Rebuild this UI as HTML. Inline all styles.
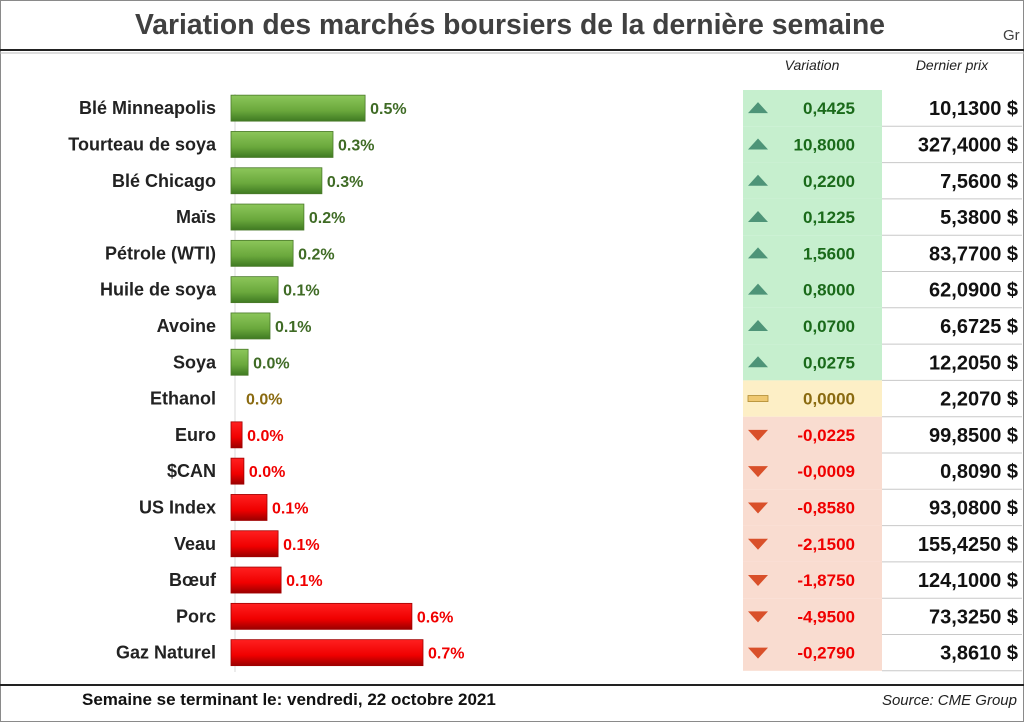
<!DOCTYPE html>
<html><head><meta charset="utf-8"><style>
body{margin:0;background:#fff;}
svg text{font-family:"Liberation Sans Narrow","Liberation Sans",sans-serif;}
</style></head><body>
<svg id="c" width="1024" height="722" xmlns="http://www.w3.org/2000/svg">
<defs>
<linearGradient id="gg" x1="0" y1="0" x2="0" y2="1"><stop offset="0" stop-color="#8cc65a"/><stop offset="0.6" stop-color="#6aa83c"/><stop offset="1" stop-color="#3f7a22"/></linearGradient>
<linearGradient id="rg" x1="0" y1="0" x2="0" y2="1"><stop offset="0" stop-color="#ff2020"/><stop offset="0.6" stop-color="#f00000"/><stop offset="1" stop-color="#9a0000"/></linearGradient>
</defs>
<rect x="0.5" y="0.5" width="1023" height="721" fill="#fff" stroke="#8a8a8a"/>
<text x="510" y="34" text-anchor="middle" font-size="29" font-weight="bold" fill="#404040" textLength="750" lengthAdjust="spacingAndGlyphs">Variation des marchés boursiers de la dernière semaine</text>
<text x="1003" y="40" font-size="15" fill="#404040">Gr</text>
<line x1="0" y1="50" x2="1024" y2="50" stroke="#222" stroke-width="2"/>
<line x1="0" y1="53" x2="1024" y2="53" stroke="#bbb" stroke-width="1"/>
<text x="812" y="70" text-anchor="middle" font-size="14" font-style="italic" fill="#222">Variation</text>
<text x="952" y="70" text-anchor="middle" font-size="14" font-style="italic" fill="#222">Dernier prix</text>
<line x1="235" y1="94" x2="235" y2="672" stroke="#d8d8d8"/>
<g id="rows"></g>
<line x1="0" y1="685" x2="1024" y2="685" stroke="#222" stroke-width="2"/>
<text x="82" y="705" font-size="17" font-weight="bold" fill="#111">Semaine se terminant le:  vendredi, 22 octobre 2021</text>
<text x="1017" y="705" text-anchor="end" font-size="15" font-style="italic" fill="#222">Source: CME Group</text>
</svg>
<script>
const categories=["Blé Minneapolis","Tourteau de soya","Blé Chicago","Maïs","Pétrole (WTI)","Huile de soya","Avoine","Soya","Ethanol","Euro","$CAN","US Index","Veau","Bœuf","Porc","Gaz Naturel"];
const pctValues=[0.447,0.340,0.303,0.243,0.207,0.157,0.130,0.057,0,-0.037,-0.043,-0.120,-0.157,-0.167,-0.603,-0.640];
const pctLabels=["0.5%","0.3%","0.3%","0.2%","0.2%","0.1%","0.1%","0.0%","0.0%","0.0%","0.0%","0.1%","0.1%","0.1%","0.6%","0.7%"];
const variations=["0,4425","10,8000","0,2200","0,1225","1,5600","0,8000","0,0700","0,0275","0,0000","-0,0225","-0,0009","-0,8580","-2,1500","-1,8750","-4,9500","-0,2790"];
const prices=["10,1300 $","327,4000 $","7,5600 $","5,3800 $","83,7700 $","62,0900 $","6,6725 $","12,2050 $","2,2070 $","99,8500 $","0,8090 $","93,0800 $","155,4250 $","124,1000 $","73,3250 $","3,8610 $"];
const NS="http://www.w3.org/2000/svg";
const g=document.getElementById('rows');
const x0=231, pxPer=300, top0=90, rowH=36.3;
function xLen(v){return Math.abs(v)*pxPer;}
function yRow(i){return top0+i*rowH;}
function mk(tag,attrs){const e=document.createElementNS(NS,tag);for(const k in attrs)e.setAttribute(k,attrs[k]);g.appendChild(e);return e;}
categories.forEach((c,i)=>{
  const v=pctValues[i], y=yRow(i), cy=y+rowH/2;
  const pos=v>0, zero=v===0;
  const lbl=mk('text',{x:216,y:cy+6,'text-anchor':'end','font-size':18,'font-weight':'bold',fill:'#222'});
  lbl.textContent=c;
  
  
  const w=xLen(v);
  if(!zero){
    const b=mk('rect',{x:x0,y:cy-13,width:w,height:26,fill:pos?'url(#gg)':'url(#rg)',stroke:pos?'#4a7a2a':'#a00000','stroke-width':0.8});
    
    
  }
  const vt=mk('text',{x:x0+w+(zero?15:5),y:cy+6,'font-size':16,'font-weight':'bold',fill:zero?'#8a6a10':(pos?'#3f6b25':'#f00000')});
  vt.textContent=pctLabels[i];
  
  
  const bg=zero?'#fdefc6':(pos?'#c6efce':'#f9dcd0');
  const cell=mk('rect',{x:743,y:y,width:139,height:rowH,fill:bg});
  
  
  mk('line',{x1:882,y1:y+rowH,x2:1022,y2:y+rowH,stroke:'#c8c8c8'});
  if(zero){mk('rect',{x:748,y:cy-3,width:20,height:6,fill:'#efc870',stroke:'#b08a30','stroke-width':0.8});}
  else if(pos){mk('polygon',{points:`748,${cy+5} 768,${cy+5} 758,${cy-6}`,fill:'#4e9478'});}
  else{mk('polygon',{points:`748,${cy-5} 768,${cy-5} 758,${cy+6}`,fill:'#d9502a'});}
  const t=mk('text',{x:855,y:cy+6,'text-anchor':'end','font-size':17,'font-weight':'bold',fill:zero?'#8a6a10':(pos?'#1a6a1a':'#f00000')});
  t.textContent=variations[i];
  
  
  const p=mk('text',{x:1018,y:cy+7,'text-anchor':'end','font-size':20,'font-weight':'bold',fill:'#111'});
  p.textContent=prices[i];
  
  
});
</script>
</body></html>
